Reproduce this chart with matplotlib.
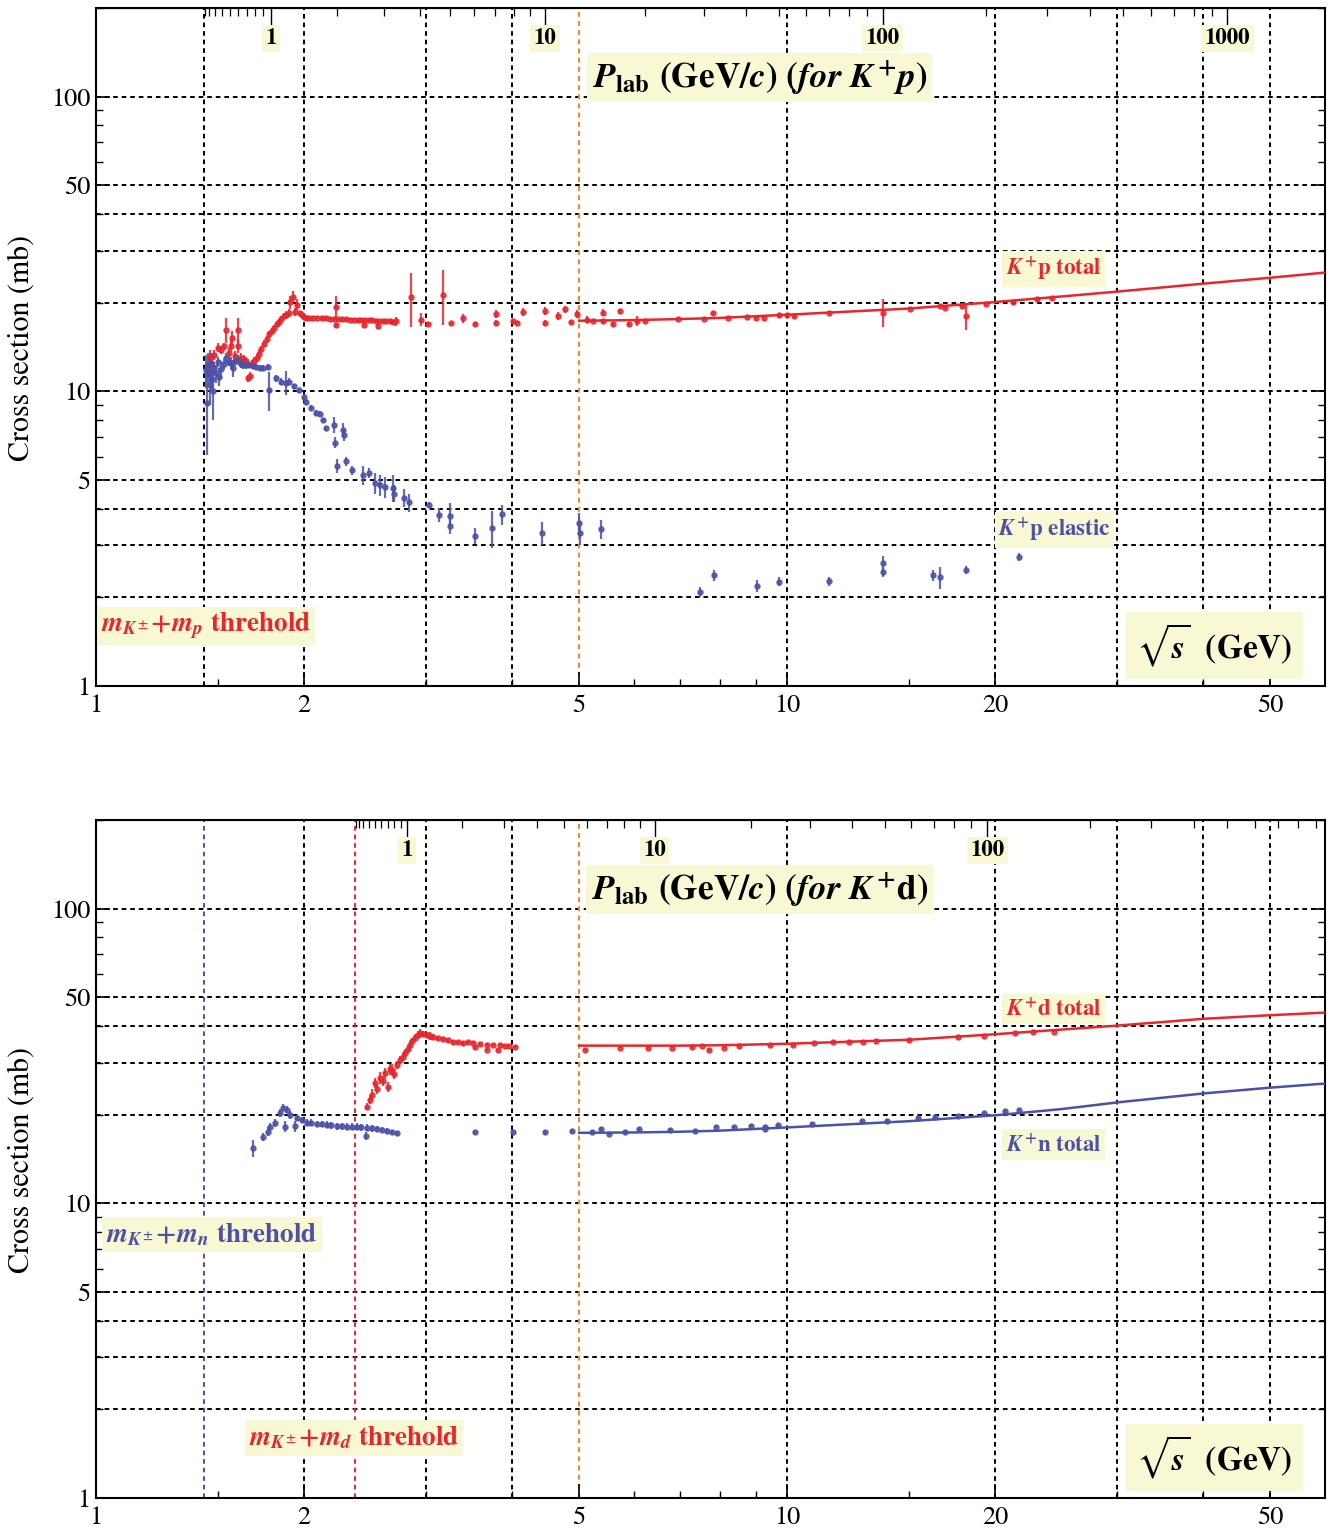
import numpy as np
import matplotlib
matplotlib.use("Agg")
import matplotlib.pyplot as plt
from matplotlib.ticker import NullFormatter

plt.rcParams.update({
    "font.family": ["STIXGeneral", "DejaVu Serif"],
    "mathtext.fontset": "custom",
    "mathtext.rm": "STIXGeneral:bold",
    "mathtext.it": "STIXGeneral:italic:bold",
    "mathtext.bf": "STIXGeneral:bold",
    "mathtext.fallback": "stix",
})

# masses (GeV) used for the P_lab axis and thresholds
M_K, M_P, M_N, M_D = 0.4937, 0.9383, 0.9396, 1.8756

# ---------------- K+p total (red, top panel) ----------------
kp_tot_x = [1.46, 1.47, 1.48, 1.50, 1.515, 1.53, 1.542, 1.555, 1.57, 1.573,
            1.59, 1.605, 1.605, 1.62, 1.635, 1.65, 1.66, 1.67, 1.68, 1.695,
            1.71, 1.721, 1.735, 1.75, 1.765, 1.78, 1.795, 1.81, 1.825, 1.84,
            1.855, 1.87, 1.885, 1.90, 1.91, 1.925, 1.94, 1.955, 1.97, 1.985,
            2.0, 2.015,
            2.03, 2.06, 2.09, 2.12, 2.15, 2.18, 2.21, 2.225, 2.225, 2.24,
            2.27, 2.30, 2.33, 2.36, 2.39, 2.42, 2.443, 2.45, 2.48, 2.51,
            2.54, 2.559, 2.57, 2.60, 2.63, 2.66, 2.69, 2.718,
            2.857, 2.953, 3.023, 3.178, 3.264, 3.397, 3.536, 3.793, 3.793, 4.013,
            4.06, 4.149, 4.464, 4.464, 4.663, 4.773, 4.869, 4.967, 5.135, 5.24,
            5.418, 5.418, 5.601, 5.733, 5.907, 6.067, 6.231, 6.955, 7.584, 7.815,
            8.215, 8.753, 9.019, 9.262, 9.737, 10.0, 10.24, 11.5, 13.77, 15.07,
            16.65, 16.9, 17.92, 18.16, 19.41, 21.24, 23.0, 24.18]
kp_tot_y = [13.0, 12.2, 13.3, 14.05, 13.8, 14.2, 16.2, 13.5, 14.3, 15.2,
            13.2, 16.2, 14.3, 13.0, 12.8, 12.7, 11.1, 11.3, 12.4, 12.7,
            13.0, 13.4, 13.9, 14.5, 15.0, 15.6, 16.0, 16.4, 16.9, 17.2,
            17.6, 18.0, 18.2, 18.5, 20.1, 20.9, 18.6, 19.7, 18.4, 18.2,
            17.9, 17.7,
            17.8, 17.8, 17.75, 17.7, 17.7, 17.65, 17.6, 19.3, 16.8, 17.6,
            17.55, 17.55, 17.5, 17.5, 17.45, 17.45, 16.8, 17.4, 17.4, 17.4,
            17.35, 16.6, 17.35, 17.3, 17.3, 17.3, 17.25, 17.3,
            20.9, 17.5, 16.95, 21.3, 17.0, 17.7, 16.95, 18.3, 17.1, 17.3,
            17.1, 18.6, 18.7, 17.1, 18.0, 19.0, 17.2, 18.3, 17.5, 17.36,
            18.5, 17.3, 16.95, 18.7, 16.95, 17.36, 17.36, 17.6, 17.6, 18.5,
            17.8, 17.9, 17.8, 17.8, 18.1, 18.2, 18.0, 18.5, 18.5, 19.06,
            19.5, 19.2, 19.5, 18.0, 19.8, 20.1, 20.5, 20.7]
kp_tot_err = [0.8, 0.6, 0.5, 0.5, 0.4, 0.4, 1.6, 0.5, 0.6, 0.8,
              0.5, 1.6, 0.8, 0.5, 0.5, 0.4, 0.3, 0.3, 0.4, 0.4,
              0.4, 0.4, 0.4, 0.4, 0.4, 0.4, 0.4, 0.4, 0.4, 0.4,
              0.4, 0.4, 0.5, 0.6, 1.0, 1.0, 0.6, 0.8, 0.4, 0.4,
              0.4, 0.3,
              0.2, 0.2, 0.2, 0.2, 0.2, 0.2, 0.2, 1.8, 0.3, 0.2,
              0.2, 0.2, 0.2, 0.2, 0.2, 0.2, 0.3, 0.2, 0.2, 0.2,
              0.2, 0.3, 0.2, 0.2, 0.2, 0.2, 0.2, 0.6,
              4.4, 0.9, 0.3, 4.5, 0.2, 0.6, 0.3, 0.6, 0.3, 0.3,
              0.2, 0.6, 0.6, 0.3, 0.6, 0.5, 0.3, 0.6, 0.5, 0.2,
              0.5, 0.2, 0.3, 0.4, 0.3, 0.7, 0.2, 0.2, 0.2, 0.3,
              0.2, 0.2, 0.2, 0.2, 0.3, 0.2, 0.2, 0.2, 2.0, 0.2,
              0.2, 0.2, 0.2, 1.8, 0.2, 0.2, 0.2, 0.2]

# ---------------- K+p elastic (blue, top panel) ----------------
kp_el_x = [1.443, 1.447, 1.452, 1.457, 1.462, 1.467, 1.472, 1.477, 1.482, 1.49,
           1.50, 1.507, 1.517, 1.53, 1.542, 1.555, 1.568, 1.58, 1.59, 1.605,
           1.62, 1.632, 1.65, 1.665, 1.685, 1.704, 1.725, 1.745, 1.774, 1.78,
           1.822, 1.853, 1.884, 1.903, 1.934, 1.966, 2.0, 2.014, 2.048, 2.082,
           2.11, 2.131, 2.152, 2.21, 2.216, 2.278, 2.284, 2.23, 2.30, 2.35,
           2.43, 2.48, 2.53, 2.58, 2.62, 2.691, 2.70, 2.791, 2.838, 3.033,
           3.136, 3.253, 3.253, 3.536, 3.742, 3.869, 4.42, 5.0, 5.02, 5.382,
           7.483, 7.842, 9.05, 9.737, 11.5, 13.77, 13.77, 16.27, 16.65, 18.16,
           21.66]
kp_el_y = [11.8, 9.1, 12.3, 11.5, 10.5, 12.5, 11.0, 10.0, 12.0, 11.5,
           12.6, 11.2, 11.9, 12.4, 13.0, 12.6, 12.5, 12.0, 12.7, 12.8,
           12.4, 12.3, 12.3, 12.3, 12.2, 12.1, 12.0, 12.0, 12.1, 10.1,
           11.1, 10.8, 10.7, 10.8, 10.4, 10.1, 9.6, 9.2, 8.8, 8.45,
           8.4, 8.0, 7.5, 7.7, 6.7, 7.4, 7.1, 5.6, 5.8, 5.4,
           5.2, 5.3, 4.9, 4.8, 4.74, 4.7, 4.5, 4.35, 4.2, 4.12,
           3.81, 3.78, 3.49, 3.23, 3.44, 3.83, 3.31, 3.58, 3.31, 3.41,
           2.09, 2.38, 2.19, 2.26, 2.27, 2.62, 2.44, 2.38, 2.34, 2.48,
           2.74]
kp_el_err = [1.5, 3.0, 1.2, 1.0, 1.5, 1.0, 1.0, 2.0, 0.6, 0.8,
             0.5, 0.8, 0.8, 0.5, 0.5, 0.4, 0.6, 0.8, 0.5, 0.5,
             0.4, 0.4, 0.4, 0.3, 0.3, 0.3, 0.3, 0.3, 0.3, 1.5,
             0.3, 0.3, 1.0, 0.3, 0.2, 0.2, 0.2, 0.2, 0.2, 0.2,
             0.15, 0.15, 0.15, 0.5, 0.3, 0.4, 0.3, 0.3, 0.2, 0.2,
             0.4, 0.2, 0.4, 0.4, 0.4, 0.5, 0.3, 0.3, 0.3, 0.1,
             0.2, 0.4, 0.2, 0.2, 0.5, 0.3, 0.3, 0.3, 0.3, 0.25,
             0.08, 0.1, 0.1, 0.08, 0.08, 0.15, 0.1, 0.1, 0.2, 0.08,
             0.08]

# ---------------- K+n total (blue, bottom panel) ----------------
kn_x = [1.687, 1.745, 1.774, 1.786, 1.816, 1.846, 1.865, 1.877, 1.89, 1.909,
        1.941, 1.954, 1.987, 2.02, 2.05, 2.088, 2.12, 2.159, 2.19, 2.233,
        2.27, 2.308, 2.35, 2.386, 2.42, 2.459, 2.467, 2.51, 2.551, 2.59,
        2.637, 2.68, 2.727, 3.536, 4.013, 4.464, 4.885, 5.222, 5.382, 5.527,
        5.83, 6.107, 6.771, 7.36, 7.893, 8.381, 8.87, 9.294, 9.294, 9.705,
        10.87, 12.84, 13.95, 15.47, 16.37, 17.68, 19.28, 20.68, 21.66]
kn_y = [15.4, 16.8, 17.5, 18.2, 18.8, 20.3, 21.1, 18.2, 20.8, 20.0,
        18.3, 19.5, 19.2, 18.8, 18.8, 18.6, 18.6, 18.5, 18.4, 18.3,
        18.3, 18.2, 18.2, 18.2, 18.1, 16.9, 18.05, 18.0, 17.9, 17.8,
        17.6, 17.4, 17.3, 17.5, 17.4, 17.4, 17.6, 17.4, 17.9, 17.2,
        17.5, 17.9, 17.8, 17.6, 18.2, 18.15, 18.3, 18.2, 17.9, 18.4,
        18.6, 18.96, 19.1, 19.5, 19.7, 19.8, 20.2, 20.5, 20.8]
kn_err = [1.0, 0.5, 0.6, 0.6, 0.6, 0.6, 0.6, 0.8, 0.6, 0.6,
          0.8, 0.5, 0.5, 0.5, 0.5, 0.5, 0.5, 0.5, 0.5, 0.5,
          0.5, 0.5, 0.5, 0.5, 0.5, 0.5, 0.5, 0.5, 0.4, 0.4,
          0.4, 0.3, 0.3, 0.3, 0.4, 0.2, 0.3, 0.2, 0.3, 0.2,
          0.2, 0.3, 0.2, 0.2, 0.2, 0.2, 0.2, 0.3, 0.2, 0.2,
          0.2, 0.2, 0.2, 0.2, 0.2, 0.2, 0.2, 0.2, 0.2]

# ---------------- K+d total (red, bottom panel) ----------------
kd_x = [2.467, 2.49, 2.508, 2.534, 2.55, 2.576, 2.60, 2.62, 2.646, 2.66,
        2.682, 2.70, 2.727, 2.754, 2.78, 2.80, 2.83, 2.848, 2.87, 2.895,
        2.92, 2.944, 2.97, 3.013, 3.04, 3.074, 3.12, 3.178, 3.23, 3.286,
        3.34, 3.397, 3.45, 3.512, 3.536, 3.60, 3.68, 3.68, 3.75, 3.817,
        3.843, 3.90, 3.96, 4.04, 5.10, 5.73, 6.29, 6.82, 7.29, 7.53,
        7.71, 8.11, 8.52, 9.45, 10.2, 10.94, 11.66, 12.29, 12.88, 13.45,
        15.02, 17.68, 19.28, 21.38, 22.70, 24.34]
kd_y = [21.3, 22.5, 23.4, 25.7, 24.5, 26.7, 26.0, 27.7, 24.9, 28.5,
        28.4, 27.5, 29.5, 30.7, 31.5, 32.4, 33.5, 34.5, 35.5, 36.5,
        37.2, 37.9, 37.6, 37.3, 37.0, 36.8, 36.5, 36.2, 35.8, 35.3,
        35.2, 35.1, 35.2, 35.1, 34.0, 34.8, 33.2, 34.6, 34.5, 33.2,
        34.5, 34.3, 34.2, 34.0, 33.2, 33.8, 33.65, 33.8, 33.9, 34.3,
        33.2, 33.8, 34.1, 34.5, 34.5, 35.0, 35.3, 35.3, 35.4, 35.6,
        35.9, 36.7, 37.1, 37.8, 38.1, 38.3]
kd_err = [0.6, 0.8, 1.0, 1.0, 1.0, 1.2, 1.0, 1.2, 1.0, 1.2,
          1.2, 1.0, 1.0, 1.0, 1.0, 1.0, 1.0, 1.0, 1.0, 1.0,
          1.2, 1.2, 1.0, 1.0, 1.2, 0.8, 0.6, 0.6, 0.5, 0.5,
          0.5, 0.5, 0.4, 0.4, 0.4, 0.3, 0.4, 0.3, 0.3, 0.3,
          0.3, 0.3, 0.3, 0.3, 0.3, 0.2, 0.2, 0.2, 0.2, 0.2,
          0.3, 0.2, 0.2, 0.2, 0.2, 0.2, 0.2, 0.2, 0.2, 0.2,
          0.2, 0.2, 0.2, 0.2, 0.2, 0.2]

# ---------------- fitted curves ----------------
fit_x = [5, 6, 7, 8, 10, 12, 15, 20, 25, 30, 40, 50, 60]
kp_fit_y = [17.36, 17.45, 17.6, 17.75, 18.2, 18.6, 19.1, 20.1, 21.0, 21.8, 23.2, 24.3, 25.3]
kn_fit_y = [17.35, 17.4, 17.5, 17.65, 18.1, 18.5, 19.0, 19.9, 20.9, 22.0, 23.6, 24.7, 25.5]
kd_fit_y = [34.3, 34.3, 34.3, 34.4, 34.8, 35.3, 35.9, 37.5, 38.9, 40.1, 42.3, 43.5, 44.4]

# axis ticks / grid
x_major = [1, 2, 5, 10, 20, 50]
x_minor = [1.5, 3, 4, 6, 7, 8, 9, 15, 30, 40]
y_major = [1, 5, 10, 50, 100]
y_minor = [2, 3, 4, 6, 7, 8, 9, 20, 30, 40, 60, 70, 80, 90, 200]
grid_y = [2, 3, 4, 5, 10, 20, 30, 40, 50, 100]
grid_x = [2, 3, 4, 10, 20, 30, 40, 50]
p_major = [1, 10, 100, 1000]
p_minor = [0.1, 0.2, 0.3, 0.4, 0.5, 0.6, 0.7, 0.8, 0.9,
           2, 3, 4, 5, 6, 7, 8, 9, 20, 30, 40, 50, 60, 70, 80, 90,
           200, 300, 400, 500, 600, 700, 800, 900]

RED = "#e8262c"
BLUE = "#4a52a8"
ORANGE = "#f08a30"
YELLOW = "#f8f8d4"
DASH = (0, (2.4, 2.0))
XMAX, YMAX = 60.0, 200.0


def sqrt_s(p, m_target):
    e = np.sqrt(np.asarray(p, float) ** 2 + M_K ** 2)
    return np.sqrt(M_K ** 2 + m_target ** 2 + 2 * m_target * e)


def ybox(**kw):
    return dict(boxstyle="square,pad=0.15", fc=YELLOW, ec="none", **kw)


def setup(ax, m_target, title):
    ax.set_xscale("log")
    ax.set_yscale("log")
    ax.set_xlim(1, XMAX)
    ax.set_ylim(1, YMAX)
    for g in grid_y:
        ax.axhline(g, color="black", lw=1.4, ls=DASH, zorder=1)
    for g in grid_x:
        ax.axvline(g, color="black", lw=1.4, ls=DASH, zorder=1)
    ax.axvline(5, color=ORANGE, lw=1.5, ls=DASH, zorder=1)

    ax.set_xticks(x_major)
    ax.set_xticklabels([str(v) for v in x_major])
    ax.set_xticks(x_minor, minor=True)
    ax.xaxis.set_minor_formatter(NullFormatter())
    ax.set_yticks(y_major)
    ax.set_yticklabels([str(v) for v in y_major])
    ax.set_yticks(y_minor, minor=True)
    ax.yaxis.set_minor_formatter(NullFormatter())
    ax.tick_params(which="both", direction="in", top=False, right=True,
                   labelsize=19)
    ax.tick_params(which="major", length=10, width=1.2)
    ax.tick_params(which="minor", length=5, width=1.0)
    ax.tick_params(axis="x", pad=6)
    ax.tick_params(axis="y", pad=4)
    for s in ax.spines.values():
        s.set_linewidth(1.5)

    # P_lab axis on top
    sec = ax.secondary_xaxis("top")
    pm = sqrt_s(p_major, m_target)
    pn = sqrt_s(p_minor, m_target)
    sec.set_xticks(pm[pm < XMAX])
    sec.set_xticklabels([])
    sec.set_xticks(pn[pn < XMAX], minor=True)
    sec.xaxis.set_minor_formatter(NullFormatter())
    sec.tick_params(which="major", direction="in", length=12, width=1.0)
    sec.tick_params(which="minor", direction="in", length=6, width=0.9)
    tr = ax.get_xaxis_transform()
    for p, xs in zip(p_major, pm):
        if xs < XMAX:
            ax.text(xs, 0.955, str(p), transform=tr, ha="center", va="center",
                    fontsize=16.5, fontweight="bold", bbox=ybox(), zorder=5)
    ax.text(0.54, 0.897, title, transform=ax.transAxes, ha="center",
            va="center", fontsize=25.5, fontweight="bold", bbox=ybox(), zorder=5)
    ax.text(0.91, 0.06, r"$\sqrt{s}$  (GeV)", transform=ax.transAxes,
            ha="center", va="center", fontsize=24, fontweight="bold",
            bbox=dict(boxstyle="square,pad=0.3", fc=YELLOW, ec="none"), zorder=5)


def data(ax, x, y, err, color):
    ax.errorbar(x, y, yerr=err, fmt="o", ms=3.6, color=color, mec=color,
                ecolor=color, elinewidth=1.6, capsize=0, alpha=0.85, zorder=3)


fig = plt.figure(figsize=(13.3, 15.35), dpi=100)
ax1 = fig.add_axes([96 / 1330, 1 - 686 / 1535, 1229 / 1330, 678 / 1535])
ax2 = fig.add_axes([96 / 1330, 1 - 1498 / 1535, 1229 / 1330, 678 / 1535])

# ---- top panel: K+p
setup(ax1, M_P, r"$P_{\mathrm{lab}}$ (GeV/$c$) ($for\ K^{+}p$)")
ax1.axvline(M_K + M_P, color="black", lw=1.4, ls=DASH, zorder=1)
data(ax1, kp_tot_x, kp_tot_y, kp_tot_err, RED)
data(ax1, kp_el_x, kp_el_y, kp_el_err, BLUE)
ax1.plot(fit_x, kp_fit_y, color=RED, lw=1.8, zorder=4)
ax1.text(0.779, 0.615, r"$K^{+}$p total", transform=ax1.transAxes, color=RED,
         ha="center", va="center", fontsize=16.5, fontweight="bold", bbox=ybox())
ax1.text(0.780, 0.230, r"$K^{+}$p elastic", transform=ax1.transAxes, color=BLUE,
         ha="center", va="center", fontsize=16.5, fontweight="bold", bbox=ybox())
ax1.text(0.0895, 0.0885, r"$m_{K^{\pm}}\!+\!m_{p}$ threhold", transform=ax1.transAxes,
         color=RED, ha="center", va="center", fontsize=19.5, fontweight="bold",
         bbox=ybox())

# ---- bottom panel: K+d / K+n
setup(ax2, M_D, r"$P_{\mathrm{lab}}$ (GeV/$c$) ($for\ K^{+}$d)")
ax2.axvline(M_K + M_N, color=BLUE, lw=1.4, ls=DASH, zorder=1)
ax2.axvline(M_K + M_D, color=RED, lw=1.4, ls=DASH, zorder=1)
data(ax2, kd_x, kd_y, kd_err, RED)
data(ax2, kn_x, kn_y, kn_err, BLUE)
ax2.plot(fit_x, kd_fit_y, color=RED, lw=1.8, zorder=4)
ax2.plot(fit_x, kn_fit_y, color=BLUE, lw=1.8, zorder=4)
ax2.text(0.779, 0.721, r"$K^{+}$d total", transform=ax2.transAxes, color=RED,
         ha="center", va="center", fontsize=16.5, fontweight="bold", bbox=ybox())
ax2.text(0.779, 0.521, r"$K^{+}$n total", transform=ax2.transAxes, color=BLUE,
         ha="center", va="center", fontsize=16.5, fontweight="bold", bbox=ybox())
ax2.text(0.0944, 0.389, r"$m_{K^{\pm}}\!+\!m_{n}$ threhold", transform=ax2.transAxes,
         color=BLUE, ha="center", va="center", fontsize=19.5, fontweight="bold",
         bbox=ybox())
ax2.text(0.21, 0.0885, r"$m_{K^{\pm}}\!+\!m_{d}$ threhold", transform=ax2.transAxes,
         color=RED, ha="center", va="center", fontsize=19.5, fontweight="bold",
         bbox=ybox())

fig.text(22 / 1330, 1 - 348 / 1535, "Cross section (mb)", rotation=90,
         ha="center", va="center", fontsize=21.5)
fig.text(22 / 1330, 1 - 1160 / 1535, "Cross section (mb)", rotation=90,
         ha="center", va="center", fontsize=21.5)

fig.savefig("out.png", dpi=100)
